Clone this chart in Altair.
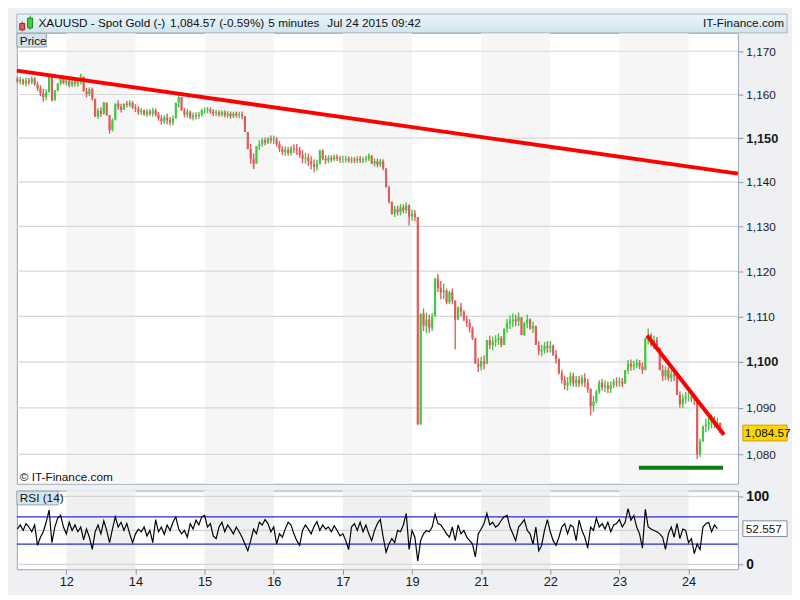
import altair as alt
import pandas as pd

# ---------------- data ----------------
day_labels = ["12", "14", "15", "16", "17", "19", "21", "22", "23", "24"]
candles_per_day = 24
first_index = -17
first_open = 1163.6
close = [
    # partial first session
    1163.0, 1163.4, 1162.5, 1163.2, 1162.8, 1163.7, 1162.3, 1161.4, 1160.3, 1159.4, 1160.5, 1164.5, 1158.7, 1160.9, 1162.5, 1163.8, 1162.7,
    # 12
    1163.2, 1162.1, 1163.0, 1162.5, 1163.0, 1164.1, 1160.7, 1160.1, 1161.2, 1159.0, 1154.9, 1156.3, 1155.6, 1158.1, 1155.2, 1151.9, 1154.1, 1157.9, 1157.2, 1156.5, 1157.9, 1157.6, 1158.1, 1157.0,
    # 14
    1156.7, 1155.9, 1156.3, 1155.4, 1156.1, 1155.6, 1156.3, 1155.4, 1154.5, 1153.8, 1154.7, 1154.1, 1153.6, 1154.5, 1158.1, 1159.4, 1156.3, 1155.4, 1155.9, 1154.7, 1155.2, 1155.0, 1155.4, 1156.3,
    # 15
    1156.3, 1156.5, 1156.1, 1155.6, 1155.9, 1155.4, 1155.9, 1155.2, 1155.6, 1155.0, 1155.6, 1155.2, 1155.4, 1155.0, 1151.4, 1147.5, 1145.3, 1144.2, 1148.2, 1148.6, 1149.5, 1149.0, 1149.9, 1149.5,
    # 16
    1149.7, 1148.6, 1147.5, 1146.8, 1147.3, 1146.6, 1147.7, 1147.5, 1147.3, 1146.2, 1145.3, 1145.5, 1144.7, 1144.0, 1143.4, 1144.2, 1147.1, 1145.3, 1144.9, 1145.5, 1145.1, 1145.8, 1145.3, 1145.1,
    # 17
    1145.1, 1145.3, 1144.9, 1145.1, 1144.9, 1145.3, 1144.9, 1145.1, 1145.3, 1146.0, 1144.2, 1144.7, 1144.0, 1144.7, 1143.1, 1138.8, 1135.5, 1132.8, 1133.9, 1133.2, 1134.3, 1133.6, 1134.7, 1132.3,
    # 19
    1132.8, 1132.1, 1086.4, 1110.6, 1107.9, 1109.3, 1107.5, 1110.0, 1118.4, 1116.3, 1115.3, 1115.7, 1113.1, 1115.3, 1113.5, 1109.3, 1112.0, 1111.0, 1109.3, 1108.5, 1107.3, 1105.2, 1099.6, 1099.0,
    # 21
    1100.2, 1099.6, 1104.8, 1103.7, 1104.4, 1104.8, 1105.2, 1103.7, 1107.3, 1108.5, 1108.9, 1109.3, 1108.9, 1109.8, 1105.9, 1108.5, 1109.3, 1107.3, 1107.9, 1103.7, 1102.3, 1102.7, 1103.5, 1103.1,
    # 22
    1103.5, 1101.6, 1100.6, 1097.5, 1096.1, 1094.9, 1095.5, 1096.9, 1095.3, 1096.1, 1095.3, 1096.5, 1095.5, 1094.1, 1090.4, 1091.4, 1093.5, 1095.5, 1094.5, 1094.9, 1094.1, 1094.9, 1095.7, 1095.5,
    # 23
    1095.7, 1095.3, 1098.2, 1099.6, 1099.0, 1099.4, 1099.8, 1099.0, 1098.2, 1105.2, 1105.9, 1103.7, 1104.8, 1103.1, 1098.2, 1096.9, 1098.2, 1096.5, 1097.3, 1096.9, 1092.8, 1090.8, 1092.0, 1092.4,
    # 24
    1092.4, 1092.0, 1091.8, 1080.0, 1082.8, 1086.0, 1086.4, 1086.8, 1087.4, 1086.4, 1086.8, 1084.57,
]
# high-low range of each bar, in dollars
bar_range = [
    1.5, 1.8, 1.5, 2.0, 1.6, 1.8, 2.0, 2.2, 2.5, 3.0, 2.5, 3.0, 3.5, 2.5, 2.0, 2.2, 1.8,
    1.8, 2.0, 1.6, 1.8, 2.0, 2.5, 3.0, 2.2, 2.0, 3.0, 3.5, 2.5, 2.2, 3.0, 3.0, 3.5, 3.0, 3.0, 2.2, 2.0, 1.5, 1.5, 1.6, 1.8,
    1.8, 2.0, 1.6, 1.5, 1.8, 1.5, 2.0, 1.8, 2.0, 2.2, 2.0, 2.5, 2.0, 2.2, 3.0, 3.5, 2.5, 2.2, 2.0, 2.0, 1.8, 1.6, 1.5, 1.8,
    1.5, 1.4, 1.5, 1.6, 1.4, 1.5, 1.4, 1.6, 1.5, 1.6, 1.5, 1.4, 1.5, 1.8, 3.5, 4.0, 4.5, 3.5, 3.0, 2.2, 2.0, 1.8, 1.6, 1.8,
    2.0, 2.2, 2.5, 2.0, 2.2, 2.0, 2.2, 2.0, 2.5, 2.5, 3.0, 2.5, 2.8, 3.0, 3.0, 2.5, 3.5, 2.5, 2.0, 1.8, 1.6, 1.5, 1.5, 1.6,
    1.6, 1.5, 1.4, 1.5, 1.4, 1.5, 1.6, 1.4, 1.5, 1.8, 2.0, 1.8, 2.0, 1.8, 2.5, 3.5, 4.0, 3.0, 2.5, 2.2, 2.5, 2.0, 2.5, 3.0,
    2.5, 2.5, 4.0, 5.0, 5.0, 4.5, 4.0, 4.0, 4.5, 4.0, 4.0, 3.5, 3.5, 3.0, 3.5, 4.0, 3.0, 3.0, 2.5, 2.5, 3.0, 3.0, 3.5, 3.0,
    3.0, 3.0, 4.0, 3.0, 3.0, 2.5, 2.5, 2.5, 3.0, 3.0, 3.0, 3.0, 2.5, 3.0, 3.5, 3.0, 3.0, 2.5, 2.5, 3.0, 3.0, 2.5, 2.5, 2.5,
    2.5, 2.5, 3.0, 3.5, 3.0, 3.0, 3.0, 3.0, 3.0, 2.5, 2.5, 2.5, 3.0, 3.0, 4.0, 3.5, 3.0, 3.0, 2.5, 2.5, 2.5, 2.5, 2.0, 2.0,
    2.0, 2.0, 3.0, 3.0, 2.5, 2.0, 2.0, 2.0, 2.5, 4.0, 3.5, 3.0, 3.0, 3.0, 4.0, 3.5, 3.0, 3.0, 2.5, 2.5, 3.5, 3.5, 3.0, 2.5,
    2.0, 2.0, 2.5, 5.0, 4.0, 3.5, 3.0, 3.0, 3.0, 2.5, 2.5, 2.0,
]
wick_index = [-5, 15, 65, 119, 135, 182, 219]
wick_price = [1158.4, 1151.0, 1143.0, 1130.2, 1102.7, 1088.4, 1079.0]

rsi_first_index = -17
rsi = [
    52, 58, 50, 60, 55, 48, 58, 28, 40, 48, 62, 80, 32, 55, 68, 72, 55,
    45, 62, 50, 58, 48, 55, 36, 52, 40, 22, 48, 58, 45, 64, 50, 32, 52, 70, 55, 62, 50, 60, 45, 32,
    45, 52, 48, 55, 42, 50, 32, 66, 48, 55, 44, 58, 50, 62, 70, 52, 45, 50, 40, 60, 52, 65, 58, 70,
    72, 55, 60, 42, 38, 55, 62, 48, 58, 52, 45, 55, 48, 40, 30, 20, 35, 52, 45, 62, 58, 66, 60, 48,
    55, 30, 45, 40, 52, 62, 58, 45, 35, 28, 50, 58, 52, 45, 56, 63, 50, 58, 52, 55, 48, 57, 50, 42,
    45, 35, 22, 55, 60, 50, 62, 48, 58, 45, 35, 50, 60, 66, 40, 18, 30, 38, 32, 50, 48, 58, 75, 22,
    50, 40, 5, 35, 45, 50, 48, 55, 74, 60, 58, 52, 45, 40, 55, 35, 58, 45, 50, 40, 35, 30, 11, 45,
    52, 60, 75, 58, 62, 55, 58, 65, 70, 72, 55, 45, 35, 55, 60, 66, 50, 45, 30, 55, 20, 28, 50, 66,
    48, 35, 28, 40, 55, 60, 45, 58, 55, 35, 65, 50, 40, 24, 55, 50, 68, 55, 60, 52, 62, 48, 58, 60,
    66, 55, 62, 82, 65, 72, 55, 45, 24, 81, 55, 52, 50, 48, 45, 40, 22, 45, 55, 40, 60, 38, 52, 50,
    32, 38, 16, 30, 22, 55, 60, 62, 48, 58, 52.557,
]

price_ticks = [1080, 1090, 1100, 1110, 1120, 1130, 1140, 1150, 1160, 1170]
long_trend_t = [-0.716, 9.715]
long_trend_p = [1165.5, 1141.9]
short_trend_t = [8.399, 9.513]
short_trend_p = [1105.8, 1084.2]
support_t = [8.282, 9.499]
support_p = [1077.1, 1077.1]
rsi_bands = [30, 70]
rsi_grid = [0, 50, 100]
last_price = 1084.57
last_rsi = 52.557
band_start = [0, 2, 4, 6, 8]

# ---------------- tables ----------------
n = len(close)
idx = list(range(first_index, first_index + n))
opens = [first_open] + close[:-1]
hi, lo = [], []
for o, c, r in zip(opens, close, bar_range):
    extra = max(r - abs(c - o), 0) / 2
    hi.append(max(o, c) + extra)
    lo.append(min(o, c) - extra)
cdf = pd.DataFrame({"t": [i / candles_per_day for i in idx], "open": opens, "close": close,
                    "high": hi, "low": lo})
cdf["dir"] = ["up" if c >= o else "down" for o, c in zip(opens, close)]

pos = {i: k for k, i in enumerate(idx)}
wdf = pd.DataFrame({
    "t": [i / candles_per_day for i in wick_index],
    "w": wick_price,
    "mid": [(opens[pos[i]] + close[pos[i]]) / 2 for i in wick_index],
    "dir": [cdf["dir"][pos[i]] for i in wick_index],
})
rdf = pd.DataFrame({"t": [(rsi_first_index + k) / candles_per_day for k in range(len(rsi))], "rsi": rsi})
band_df = pd.DataFrame({"t0": band_start, "t1": [b + 1 for b in band_start]})
grid_df = pd.DataFrame({"p": price_ticks})
one = pd.DataFrame({"n": [0]})

# ---------------- styling ----------------
W, HP, HR = 734, 459, 80
FONT = "Liberation Sans"
RED, GREEN = "#e05c5c", "#40c840"
xs = alt.Scale(domain=[-0.716, 9.715], nice=False, zero=False)
ys = alt.Scale(type="log", domain=[1073.7, 1174.3], nice=False, zero=False)
rs = alt.Scale(domain=[-7, 108.5], nice=False, zero=False)
cscale = alt.Scale(domain=["up", "down"], range=[GREEN, RED])

y_axis = alt.Axis(
    orient="right", values=price_ticks, format=",.0f", grid=False, domain=False,
    tickSize=5, tickColor="#8a949e", labelColor="#1a1a1a", labelPadding=3, title=None,
    labelFontSize={"condition": {"test": "datum.value == 1150 || datum.value == 1100", "value": 13}, "value": 12},
    labelFontWeight={"condition": {"test": "datum.value == 1150 || datum.value == 1100", "value": "bold"}, "value": "normal"},
)
r_axis = alt.Axis(orient="right", values=[0, 100], grid=False, domain=False, tickSize=5,
                  tickColor="#8a949e", labelColor="#111", labelFontSize=14, labelFontWeight="bold",
                  labelPadding=3, title=None)
x_axis = alt.Axis(values=list(range(10)), grid=False, domain=False, tickSize=5, tickColor="#8a949e",
                  labelColor="#1a1a1a", labelFontSize=13, labelPadding=2, title=None,
                  labelExpr="[" + ",".join("'" + d + "'" for d in day_labels) + "][datum.value]")


def vtext(txt, x, y, size=12, align="left", weight="normal"):
    return alt.Chart(one).mark_text(align=align, baseline="middle", font=FONT, fontSize=size,
                                    color="#111111", fontWeight=weight).encode(
        x=alt.value(x), y=alt.value(y), text=alt.value(txt))


def vrect(x, x2, y, y2, fill, stroke=None):
    kw = {"fill": fill}
    if stroke:
        kw["stroke"] = stroke
        kw["strokeWidth"] = 1
    return alt.Chart(one).mark_rect(**kw).encode(
        x=alt.value(x), x2=alt.value(x2), y=alt.value(y), y2=alt.value(y2))


def trend(ts, ps, color):
    d = pd.DataFrame({"t": ts, "p": ps})
    return alt.Chart(d).mark_line(color=color, strokeWidth=4).encode(
        x=alt.X("t:Q", scale=xs, axis=None), y=alt.Y("p:Q", scale=ys, axis=y_axis))


# ---------------- price panel ----------------
bands_p = alt.Chart(band_df).mark_rect(color="#f6f6f6").encode(
    x=alt.X("t0:Q", scale=xs, axis=None), x2="t1:Q", y=alt.value(0), y2=alt.value(HP))
grid_p = alt.Chart(grid_df).mark_rule(color="#d8d8d8", strokeWidth=1.2).encode(
    y=alt.Y("p:Q", scale=ys, axis=y_axis))
ranges = alt.Chart(cdf).mark_rule(strokeWidth=1.4).encode(
    x=alt.X("t:Q", scale=xs, axis=None), y=alt.Y("low:Q", scale=ys, axis=y_axis), y2="high:Q",
    color=alt.Color("dir:N", scale=cscale, legend=None))
wicks = alt.Chart(wdf).mark_rule(strokeWidth=1.4).encode(
    x=alt.X("t:Q", scale=xs, axis=None), y=alt.Y("w:Q", scale=ys, axis=y_axis), y2="mid:Q",
    color=alt.Color("dir:N", scale=cscale, legend=None))
candles = alt.Chart(cdf).mark_rule(strokeWidth=2.2).encode(
    x=alt.X("t:Q", scale=xs, axis=None), y=alt.Y("open:Q", scale=ys, axis=y_axis), y2="close:Q",
    color=alt.Color("dir:N", scale=cscale, legend=None))

last_df = pd.DataFrame({"p": [last_price], "label": [f"{last_price:,.2f}"]})
tag_rect = alt.Chart(last_df).mark_rect(fill="#fcd400", stroke="#c9a200", strokeWidth=1,
                                        yOffset=-8, y2Offset=8).encode(
    x=alt.value(W + 5), x2=alt.value(W + 50), y=alt.Y("p:Q", scale=ys, axis=y_axis), y2="p:Q")
tag_text = alt.Chart(last_df).mark_text(align="left", baseline="middle", font=FONT, fontSize=12,
                                        color="#111").encode(
    x=alt.value(W + 7), y=alt.Y("p:Q", scale=ys, axis=y_axis), text="label:N")

header_fill = {"gradient": "linear", "x1": 0, "x2": 0, "y1": 0, "y2": 1,
               "stops": [{"offset": 0, "color": "#eaf6fb"}, {"offset": 1, "color": "#cfe5ef"}]}
header = [
    vrect(0, 784, -19, 0, header_fill, "#a9b6c0"),
    alt.Chart(one).mark_rule(color="#b03030").encode(x=alt.value(5.5), y=alt.value(-11.5), y2=alt.value(-1.5)),
    vrect(3, 8, -9.5, -3, "#e05c5c", "#a02020"),
    alt.Chart(one).mark_rule(color="#209020").encode(x=alt.value(13.5), y=alt.value(-17.5), y2=alt.value(-3)),
    vrect(11, 16, -15, -5, "#40d040", "#208020"),
    vtext("XAUUSD - Spot Gold (-)", 22, -9.5, 12),
    vtext("1,084.57 (-0.59%)", 156, -9.5, 12),
    vtext("5 minutes", 256, -9.5, 12),
    vtext("Jul 24 2015 09:42", 316, -9.5, 12),
    vtext("IT-Finance.com", 781, -9.5, 12, align="right"),
]

price = alt.layer(
    bands_p, grid_p, ranges, wicks, candles,
    trend(long_trend_t, long_trend_p, "#ff0000"),
    trend(short_trend_t, short_trend_p, "#ff0000"),
    trend(support_t, support_p, "#0a7d0a"),
    vrect(0, 30, 0.5, 14.5, "#d6e3eb", "#93a4b2"),
    vtext("Price", 3, 8, 12),
    vtext("© IT-Finance.com", 3, HP - 7, 12),
    tag_rect, tag_text,
    *header,
).properties(width=W, height=HP)

# ---------------- RSI panel ----------------
bands_r = alt.Chart(band_df).mark_rect(color="#f0f0f0").encode(
    x=alt.X("t0:Q", scale=xs, axis=x_axis), x2="t1:Q", y=alt.value(0), y2=alt.value(HR))
grid_r = alt.Chart(pd.DataFrame({"v": rsi_grid})).mark_rule(color="#d4d4d4", strokeWidth=1.2).encode(
    y=alt.Y("v:Q", scale=rs, axis=r_axis))
lev_r = alt.Chart(pd.DataFrame({"v": rsi_bands})).mark_rule(color="#2b2bd0", strokeWidth=1.3).encode(
    y=alt.Y("v:Q", scale=rs, axis=r_axis))
rsi_line = alt.Chart(rdf).mark_line(color="#000000", strokeWidth=1.2).encode(
    x=alt.X("t:Q", scale=xs, axis=x_axis), y=alt.Y("rsi:Q", scale=rs, axis=r_axis))
last_r = pd.DataFrame({"v": [last_rsi], "label": [f"{last_rsi:.3f}"]})
rtag_rect = alt.Chart(last_r).mark_rect(fill="#ffffff", stroke="#7f8a95", strokeWidth=1,
                                        yOffset=-8, y2Offset=8).encode(
    x=alt.value(W + 5), x2=alt.value(W + 50), y=alt.Y("v:Q", scale=rs, axis=r_axis), y2="v:Q")
rtag_text = alt.Chart(last_r).mark_text(align="left", baseline="middle", font=FONT, fontSize=12,
                                        color="#111").encode(
    x=alt.value(W + 8), y=alt.Y("v:Q", scale=rs, axis=r_axis), text="label:N")

rsi_chart = alt.layer(
    bands_r, grid_r, lev_r, rsi_line,
    vrect(0, 42, 0.5, 14.5, "#d6e3eb", "#93a4b2"),
    vtext("RSI (14)", 3, 8, 12),
    rtag_rect, rtag_text,
).properties(width=W, height=HR)

chart = alt.vconcat(price, rsi_chart, spacing=4).properties(
    padding=0, background="#eef0f3"
).configure_view(
    stroke="#9aa5b1", strokeWidth=1, fill="#ffffff"
).configure_axis(
    labelFont=FONT
)

chart.save("out.html", embed_options={"renderer": "svg", "actions": False})
